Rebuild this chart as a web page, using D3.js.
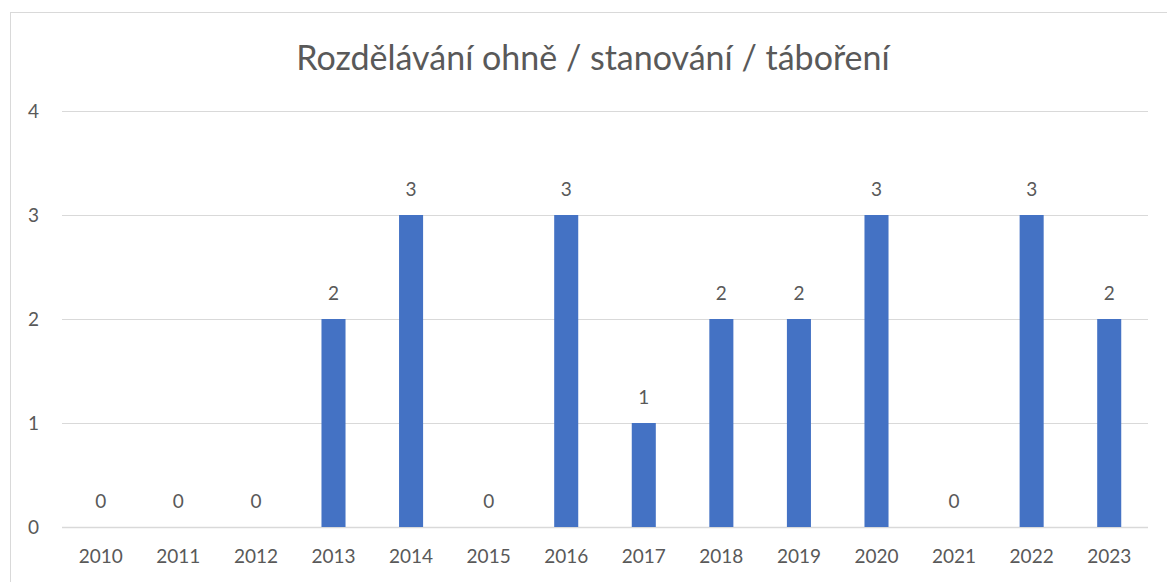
<!DOCTYPE html>
<html>
  <head>
    <meta charset="utf-8">
    <script src="https://d3js.org/d3.v7.min.js"></script>
    <style>
      body { margin: 0; background: #fff; }
      text { font-family: Lato, "Open Sans", sans-serif; fill: #595959; }
    </style>
  </head>
  <body>
    <div id="chart"></div>
    <script>
      var years = ['2010','2011','2012','2013','2014','2015','2016','2017','2018','2019','2020','2021','2022','2023']
      var counts = [0, 0, 0, 2, 3, 0, 3, 1, 2, 2, 3, 0, 3, 2]
      var yTicks = [0, 1, 2, 3, 4]
      var title = 'Rozdělávání ohně / stanování / táboření'

      var width = 1167, height = 582
      var margin = {left: 62, right: 19, top: 111, bottom: 55}

      var svg = d3.select('#chart').append('svg')
        .attr('width', width)
        .attr('height', height)

      // chart frame
      svg.append('rect')
        .attr('x', 10.5).attr('y', 12.5)
        .attr('width', 1170).attr('height', 600)
        .attr('fill', 'none')
        .attr('stroke', '#d9d9d9')

      var x = d3.scaleBand()
        .domain(years)
        .range([margin.left, width - margin.right])
        .paddingInner(0.69)
        .paddingOuter(0.345)

      var y = d3.scaleLinear()
        .domain([0, 4])
        .range([height - margin.bottom, margin.top])

      // gridlines
      svg.append('g').selectAll('line')
        .data(yTicks)
        .enter().append('line')
          .attr('x1', margin.left)
          .attr('x2', width - margin.right)
          .attr('y1', function(d){ return Math.round(y(d)) + 0.5 })
          .attr('y2', function(d){ return Math.round(y(d)) + 0.5 })
          .attr('stroke', '#d9d9d9')
          .attr('stroke-width', function(d){ return d == 0 ? 1.5 : 1 })

      // y labels
      svg.append('g').selectAll('text')
        .data(yTicks)
        .enter().append('text')
          .attr('x', 39)
          .attr('y', function(d){ return y(d) })
          .attr('dy', '0.35em')
          .attr('text-anchor', 'end')
          .style('font-size', '19px')
          .text(function(d){ return d })

      // bars
      svg.append('g').selectAll('rect')
        .data(counts)
        .enter().append('rect')
          .attr('x', function(d, i){ return x(years[i]) })
          .attr('y', function(d){ return y(d) })
          .attr('width', x.bandwidth())
          .attr('height', function(d){ return y(0) - y(d) })
          .attr('fill', '#4472c4')

      // value labels
      svg.append('g').selectAll('text')
        .data(counts)
        .enter().append('text')
          .attr('x', function(d, i){ return x(years[i]) + x.bandwidth() / 2 })
          .attr('y', function(d){ return y(d) - 26 })
          .attr('dy', '0.35em')
          .attr('text-anchor', 'middle')
          .style('font-size', '19px')
          .text(function(d){ return d })

      // x labels
      svg.append('g').selectAll('text')
        .data(years)
        .enter().append('text')
          .attr('x', function(d){ return x(d) + x.bandwidth() / 2 })
          .attr('y', y(0) + 29)
          .attr('dy', '0.35em')
          .attr('text-anchor', 'middle')
          .style('font-size', '19px')
          .text(function(d){ return d })

      svg.append('text')
        .attr('x', 593)
        .attr('y', 58)
        .attr('dy', '0.35em')
        .attr('text-anchor', 'middle')
        .style('font-size', '34px')
        .text(title)
    </script>
  </body>
</html>
